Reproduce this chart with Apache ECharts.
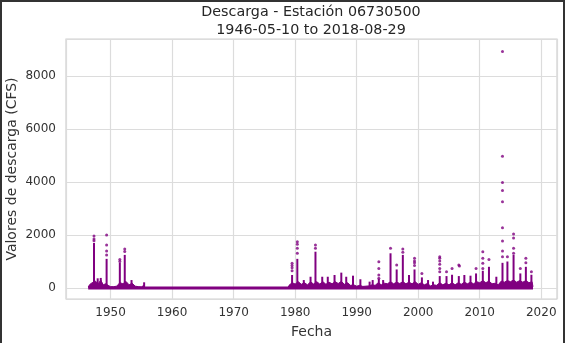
<!DOCTYPE html>
<html><head><meta charset="utf-8">
<script src="https://cdn.jsdelivr.net/npm/echarts@6/dist/echarts.min.js"></script>
<style>
html,body{margin:0;padding:0;background:#fff}
#c{width:565px;height:343px;position:absolute;left:0;top:0}
#f{position:absolute;left:0;top:0;width:565px;height:343px;box-sizing:border-box;border:2px solid #333;border-bottom:none;pointer-events:none}
</style>
</head><body><div id="c"></div><div id="f"></div>
<script>
// Record span (decimal years) – values at 0 throughout
const spanYears = [1946.36, 2018.66];
const spanValues = [0, 0];

// Dense low band of daily values (decimal year, CFS)
const bandYears = [1946.36,1946.6,1947.0,1947.5,1948.0,1948.4,1948.8,1949.2,1949.6,1950.0,1950.5,1951.0,1951.5,1952.0,1952.5,1953.0,1953.5,1954.0,1954.5,1955.0,1955.4,1955.6,
  1978.8,1979.0,1979.5,1980.0,1980.5,1981.0,1981.5,1982.0,1982.5,1983.0,1983.5,1984.0,1984.5,1985.0,1985.5,1986.0,1986.5,1987.0,1987.5,1988.0,1988.5,1989.0,1989.5,1990.0,1990.5,1991.0,1991.5,1992.0,1992.5,1993.0,1993.5,1994.0,1994.5,1995.0,1995.5,1996.0,1996.5,1997.0,1997.5,1998.0,1998.5,1999.0,1999.5,2000.0,2000.5,2001.0,2001.5,2002.0,2002.5,2003.0,2003.5,2004.0,2004.5,2005.0,2005.5,2006.0,2006.5,2007.0,2007.5,2008.0,2008.5,2009.0,2009.5,2010.0,2010.5,2011.0,2011.5,2012.0,2012.5,2013.0,2013.5,2014.0,2014.5,2015.0,2015.5,2016.0,2016.5,2017.0,2017.5,2018.0,2018.5,2018.66];
const bandTops = [40,130,200,260,160,300,120,160,100,50,50,70,200,160,250,120,180,70,50,40,100,0,
  0,100,200,150,240,140,200,120,230,150,240,150,240,140,220,160,240,170,250,140,200,100,120,70,100,60,70,80,120,100,200,120,180,160,240,160,220,170,240,160,220,160,240,140,200,120,170,80,120,100,200,120,180,120,200,120,200,140,220,160,220,160,240,200,280,200,260,160,180,120,260,220,280,240,300,220,280,220,280,200,240,50];

// Dense vertical clusters (flood events): position and top of the dense part
const stemYears = [1947.3,1947.9,1948.4,1949.35,1951.5,1952.3,1953.4,1955.45,
  1979.5,1980.35,1981.4,1982.5,1983.3,1984.4,1985.3,1986.4,1987.5,1988.3,1989.4,1990.6,1992.1,1992.6,1993.6,1994.3,1995.5,1996.5,1997.5,1998.5,1999.4,2000.6,2001.6,2002.4,2003.5,2004.6,2005.5,2006.6,2007.5,2008.5,2009.4,2010.5,2011.5,2012.7,2013.7,2014.5,2015.5,2016.6,2017.5,2018.4];
const stemTops = [1700,365,380,1100,950,1250,300,215,
  490,1100,300,425,1370,425,425,490,580,425,465,330,240,300,350,300,1310,700,1250,490,700,400,300,240,450,450,500,450,490,465,550,650,800,425,950,1000,1250,550,800,500];

// Isolated high readings above the dense clusters
const dotYears = [1947.3,1947.3,1947.3,1949.35,1949.35,1949.35,1949.35,1951.5,1951.5,1952.3,1952.3,
  1979.5,1979.5,1979.5,1979.5,1980.35,1980.35,1980.35,1980.35,1983.3,1983.3,
  1993.6,1993.6,1993.6,1993.6,1995.5,1996.5,1997.5,1997.5,1999.4,1999.4,1999.4,1999.4,2000.6,
  2003.5,2003.5,2003.5,2003.5,2003.5,2003.5,2004.6,2005.5,2006.6,2006.7,2009.4,
  2010.5,2010.5,2010.5,2010.5,2011.5,
  2013.7,2013.7,2013.7,2013.7,2013.7,2013.7,2013.7,2013.7,2013.7,2014.5,
  2015.5,2015.5,2015.5,2015.5,2016.6,2017.5,2017.5,2018.4];
const dotValues = [1960,1850,1780,2000,1620,1400,1250,1080,1000,1470,1380,
  930,850,760,650,1745,1650,1500,1310,1620,1500,
  990,740,490,365,1500,870,1470,1350,1120,1020,950,850,550,
  1180,1120,1020,900,740,615,615,740,870,830,740,
  1370,1120,930,740,1080,
  8925,4976,3985,3680,3250,2270,1770,1395,1180,1180,
  2035,1885,1500,1310,740,1120,950,615];

const xTicks = [1950,1960,1970,1980,1990,2000,2010,2020];
const yTicks = [0,2000,4000,6000,8000];

const zip = (a, b) => a.map((v, i) => [v, b[i]]);
const PURPLE = '#800080';
const FONT = 'DejaVu Sans';
const chart = echarts.init(document.getElementById('c'), null, {renderer: 'canvas'});
chart.setOption({
  animation: false,
  backgroundColor: '#fff',
  title: {
    text: 'Descarga - Estación 06730500\n1946-05-10 to 2018-08-29',
    left: 311, top: 4, padding: 0, textAlign: 'center',
    textStyle: {fontFamily: FONT, fontSize: 14.3, fontWeight: 'normal', color: '#262626', lineHeight: 17.5}
  },
  grid: {left: 66, right: 8, top: 39, bottom: 44, containLabel: false, outerBoundsMode: 'none',
    show: true, borderColor: '#d0d0d0', borderWidth: 1.2, backgroundColor: 'transparent'},
  xAxis: {
    type: 'value', min: 1942.75, max: 2022.56, minInterval: 10, maxInterval: 10,
    axisLine: {show: false}, axisTick: {show: false},
    axisLabel: {fontFamily: FONT, fontSize: 12, color: '#333', margin: 8, showMinLabel: false, showMaxLabel: false,
      formatter: v => xTicks.includes(v) ? String(v) : ''},
    splitLine: {show: true, lineStyle: {color: '#dcdcdc', width: 1.2}},
    name: 'Fecha', nameLocation: 'middle', nameGap: 26.5, nameMoveOverlap: false,
    nameTextStyle: {fontFamily: FONT, fontSize: 14, color: '#333'}
  },
  yAxis: {
    type: 'value', min: -415, max: 9396, minInterval: 2000, maxInterval: 2000,
    axisLine: {show: false}, axisTick: {show: false},
    axisLabel: {fontFamily: FONT, fontSize: 12, color: '#333', margin: 10, showMinLabel: false, showMaxLabel: false,
      formatter: v => yTicks.includes(v) ? String(v) : ''},
    splitLine: {show: true, lineStyle: {color: '#dcdcdc', width: 1.2}},
    name: 'Valores de descarga (CFS)', nameLocation: 'middle', nameGap: 47, nameMoveOverlap: false,
    nameTextStyle: {fontFamily: FONT, fontSize: 14, color: '#333'}
  },
  series: [
    {type: 'line', data: zip(spanYears, spanValues), symbol: 'none', lineStyle: {color: PURPLE, width: 3}, z: 2},
    {type: 'line', data: zip(bandYears, bandTops), symbol: 'none', lineStyle: {color: PURPLE, width: 1}, areaStyle: {color: PURPLE, opacity: 1}, z: 2},
    {type: 'bar', data: zip(stemYears, stemTops), barWidth: 2, itemStyle: {color: PURPLE}, z: 2},
    {type: 'scatter', data: zip(dotYears, dotValues), symbolSize: 3, itemStyle: {color: PURPLE}, z: 3}
  ]
});
</script></body></html>
